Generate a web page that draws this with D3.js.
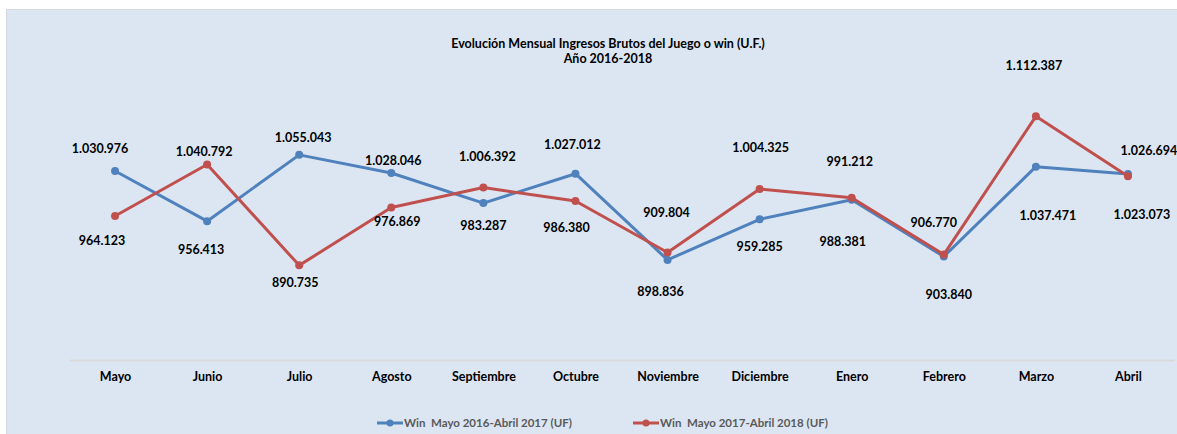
<!DOCTYPE html>
<html>
<head>
<meta charset="utf-8">
<script src="https://cdn.jsdelivr.net/npm/d3@7"></script>
<style>
  body { margin: 0; background: #fff; }
  text { font-family: Lato, "Open Sans", sans-serif; font-weight: bold; white-space: pre; }
</style>
</head>
<body>
<script>
// data
var months = ["Mayo", "Junio", "Julio", "Agosto", "Septiembre", "Octubre", "Noviembre", "Diciembre", "Enero", "Febrero", "Marzo", "Abril"]
var win2016 = [1030976, 956413, 1055043, 1028046, 983287, 1027012, 898836, 959285, 988381, 903840, 1037471, 1026694]
var win2017 = [964123, 1040792, 890735, 976869, 1006392, 986380, 909804, 1004325, 991212, 906770, 1112387, 1023073]
var seriesNames = ["Win  Mayo 2016-Abril 2017 (UF)", "Win  Mayo 2017-Abril 2018 (UF)"]
var titleLines = ["Evolución Mensual Ingresos Brutos del Juego o win (U.F.)", "Año 2016-2018"]

// hand placed label offsets (dx, dy) from each point, like the excel chart
var offs2016 = [[-15,-22],[-6,28],[4,-17],[2,-12],[0,23],[-3,-29],[-7,32],[0,27],[-9,42],[5,38],[12,49],[21,-23]]
var offs2017 = [[-13,25],[-3,-13],[-4,17],[6,14],[4,-31],[-9,27],[-1,-40],[1,-41],[-2,-36],[-10,-32],[-2,-51],[14,38]]

var W = 1177, H = 434
var margin = {top: 91, right: 3, bottom: 74, left: 69}
var width = W - margin.left - margin.right
var height = H - margin.top - margin.bottom

var colors = ["#4f81bd", "#c0504d"]
var fmt = d3.formatLocale({decimal: ",", thousands: ".", grouping: [3]}).format(",d")

var svg = d3.select("body").append("svg")
    .attr("width", W)
    .attr("height", H)

// chart area background
svg.append("rect")
    .attr("x", 6.5).attr("y", 9.5)
    .attr("width", W).attr("height", H)
    .attr("fill", "#dce6f2")
    .attr("stroke", "#d4d9e0")

var g = svg.append("g")
    .attr("transform", "translate(" + margin.left + "," + margin.top + ")")

var x = d3.scalePoint().domain(months).range([0, width]).padding(0.5)
var y = d3.scaleLinear().domain([750000, 1150000]).range([height, 0])

// x axis
var xAxis = g.append("g")
    .attr("transform", "translate(0," + height + ")")
    .call(d3.axisBottom(x).tickSize(0).tickPadding(12))
xAxis.select(".domain").attr("stroke", "#d9d9d9").attr("stroke-width", 2)
xAxis.selectAll("text")
    .attr("font-size", "12.5px")
    .attr("fill", "#000")
    .style("font-family", "Lato, sans-serif")
    .style("font-weight", "bold")

// title
svg.append("g").selectAll("text")
    .data(titleLines)
    .join("text")
    .attr("x", 608)
    .attr("y", (d, i) => 44 + i * 15)
    .attr("dy", "0.35em")
    .attr("text-anchor", "middle")
    .attr("font-size", "12.5px")
    .attr("fill", "#000")
    .text(d => d)

var line = d3.line()
    .x((d, i) => x(months[i]))
    .y(d => y(d))

var series = [
  {name: seriesNames[0], values: win2016, offs: offs2016, color: colors[0]},
  {name: seriesNames[1], values: win2017, offs: offs2017, color: colors[1]}
]

series.forEach(function(s) {
  g.append("path")
    .datum(s.values)
    .attr("d", line)
    .attr("fill", "none")
    .attr("stroke", s.color)
    .attr("stroke-width", 3)
    .attr("stroke-linejoin", "round")

  g.append("g").selectAll("circle")
    .data(s.values)
    .join("circle")
    .attr("cx", (d, i) => x(months[i]))
    .attr("cy", d => y(d))
    .attr("r", 4)
    .attr("fill", s.color)
})

// data labels on top
series.forEach(function(s) {
  g.append("g").selectAll("text")
    .data(s.values)
    .join("text")
    .attr("x", (d, i) => x(months[i]) + s.offs[i][0])
    .attr("y", (d, i) => y(d) + s.offs[i][1])
    .attr("dy", "0.35em")
    .attr("text-anchor", "middle")
    .attr("font-size", "12.5px")
    .attr("fill", "#000")
    .text(d => fmt(d))
})

// legend
var legX = [377, 633]
var legend = svg.append("g").selectAll("g")
    .data(series)
    .join("g")
    .attr("transform", (d, i) => "translate(" + legX[i] + ",423)")
legend.append("line")
    .attr("x1", 0).attr("x2", 26)
    .attr("stroke", d => d.color)
    .attr("stroke-width", 3)
legend.append("circle")
    .attr("cx", 13).attr("r", 3.5)
    .attr("fill", d => d.color)
legend.append("text")
    .attr("x", 27)
    .attr("dy", "0.35em")
    .attr("font-size", "11.5px")
    .attr("fill", "#595959")
    .text(d => d.name)
</script>
</body>
</html>
